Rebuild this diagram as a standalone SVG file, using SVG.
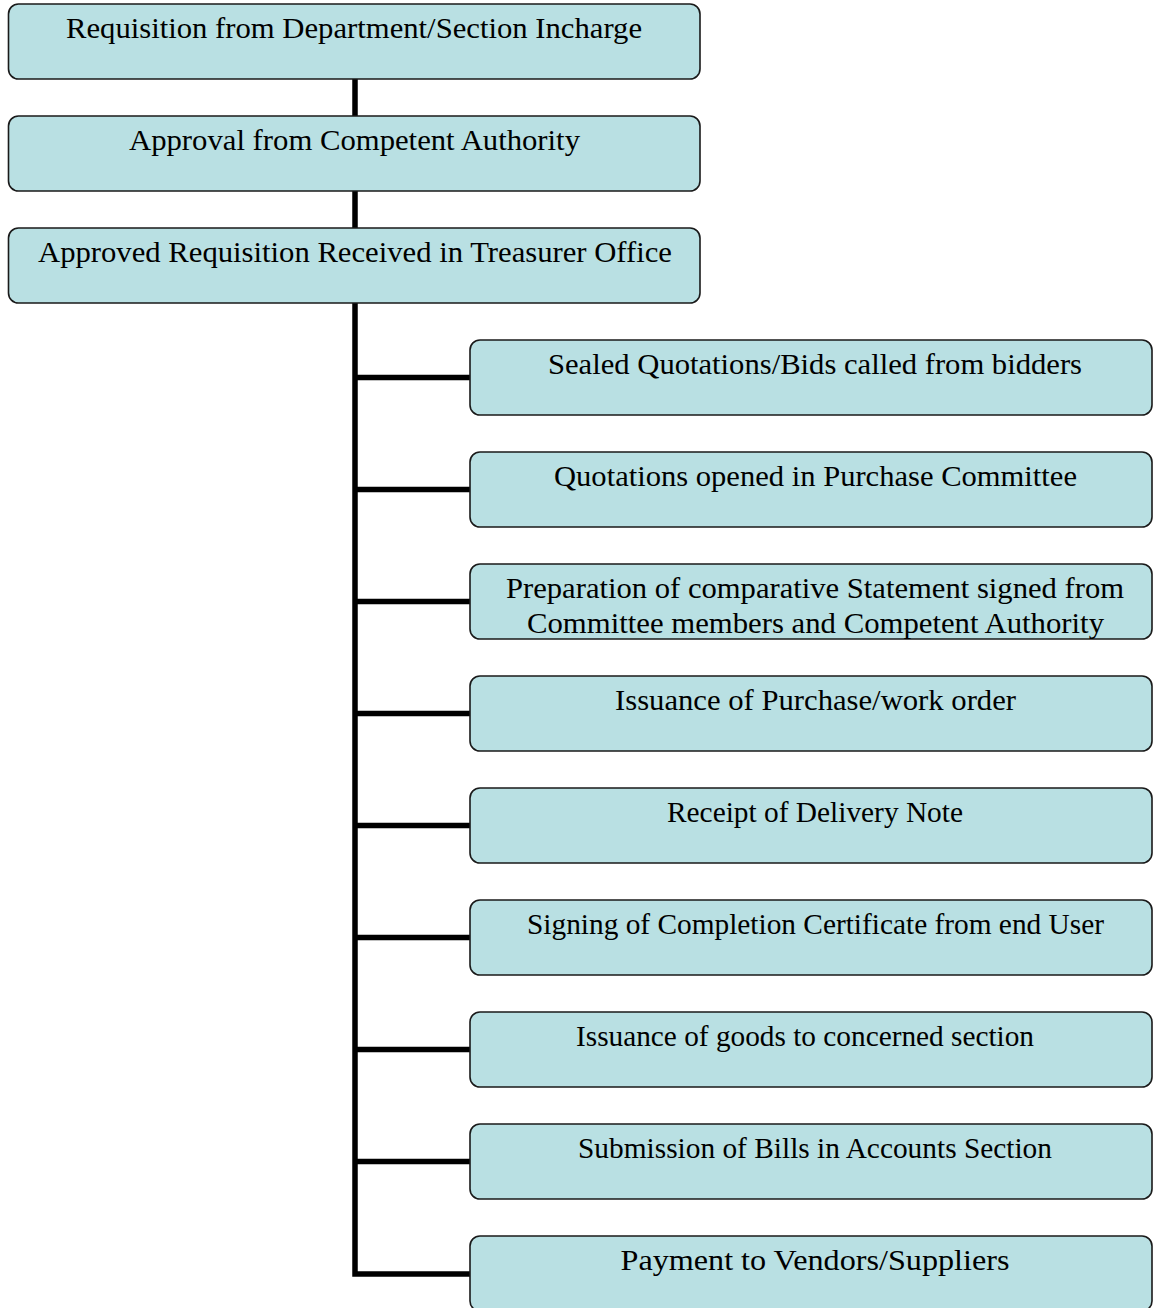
<svg xmlns="http://www.w3.org/2000/svg" width="1153" height="1308" viewBox="0 0 1153 1308">
<style>
.box{fill:#B9E0E3;stroke:#1a1a1a;stroke-width:1.6}
.t{font-family:"Liberation Serif","Times New Roman",serif;font-size:30px;fill:#000;text-anchor:middle}
.c{fill:none;stroke:#000;stroke-width:5.5;stroke-linejoin:miter;stroke-linecap:butt}
</style>
<rect width="1153" height="1308" fill="#fff"/>
<g id="connectors">
<path class="c" d="M355 79V116M355 191V228M355 303V1274H470"/>
<path class="c" d="M355 377.5H470M355 489.5H470M355 601.5H470M355 713.5H470M355 825.5H470M355 937.5H470M355 1049.5H470M355 1161.5H470"/>
</g>
<g id="n1"><rect class="box" x="8.5" y="4" width="691.5" height="75" rx="10"/><text class="t" x="354" y="38" textLength="576" lengthAdjust="spacingAndGlyphs">Requisition from Department/Section Incharge</text></g>
<g id="n2"><rect class="box" x="8.5" y="116" width="691.5" height="75" rx="10"/><text class="t" x="354.5" y="150" textLength="451" lengthAdjust="spacingAndGlyphs">Approval from Competent Authority</text></g>
<g id="n3"><rect class="box" x="8.5" y="228" width="691.5" height="75" rx="10"/><text class="t" x="355" y="262" textLength="634" lengthAdjust="spacingAndGlyphs">Approved Requisition Received in Treasurer Office</text></g>
<g id="n4"><rect class="box" x="470" y="340" width="682" height="75" rx="10"/><text class="t" x="815" y="374" textLength="534" lengthAdjust="spacingAndGlyphs">Sealed Quotations/Bids called from bidders</text></g>
<g id="n5"><rect class="box" x="470" y="452" width="682" height="75" rx="10"/><text class="t" x="815.5" y="486" textLength="523" lengthAdjust="spacingAndGlyphs">Quotations opened in Purchase Committee</text></g>
<g id="n6"><rect class="box" x="470" y="564" width="682" height="75" rx="10"/><text class="t" x="815" y="598" textLength="618" lengthAdjust="spacingAndGlyphs">Preparation of comparative Statement signed from</text><text class="t" x="815.5" y="633" textLength="577" lengthAdjust="spacingAndGlyphs">Committee members and Competent Authority</text></g>
<g id="n7"><rect class="box" x="470" y="676" width="682" height="75" rx="10"/><text class="t" x="815.5" y="710" textLength="401" lengthAdjust="spacingAndGlyphs">Issuance of Purchase/work order</text></g>
<g id="n8"><rect class="box" x="470" y="788" width="682" height="75" rx="10"/><text class="t" x="815" y="822" textLength="296" lengthAdjust="spacingAndGlyphs">Receipt of Delivery Note</text></g>
<g id="n9"><rect class="box" x="470" y="900" width="682" height="75" rx="10"/><text class="t" x="815.5" y="934" textLength="577" lengthAdjust="spacingAndGlyphs">Signing of Completion Certificate from end User</text></g>
<g id="n10"><rect class="box" x="470" y="1012" width="682" height="75" rx="10"/><text class="t" x="805" y="1046" textLength="458" lengthAdjust="spacingAndGlyphs">Issuance of goods to concerned section</text></g>
<g id="n11"><rect class="box" x="470" y="1124" width="682" height="75" rx="10"/><text class="t" x="815" y="1158" textLength="474" lengthAdjust="spacingAndGlyphs">Submission of Bills in Accounts Section</text></g>
<g id="n12"><rect class="box" x="470" y="1236" width="682" height="75" rx="10"/><text class="t" x="815" y="1270" textLength="389" lengthAdjust="spacingAndGlyphs">Payment to Vendors/Suppliers</text></g>
</svg>
